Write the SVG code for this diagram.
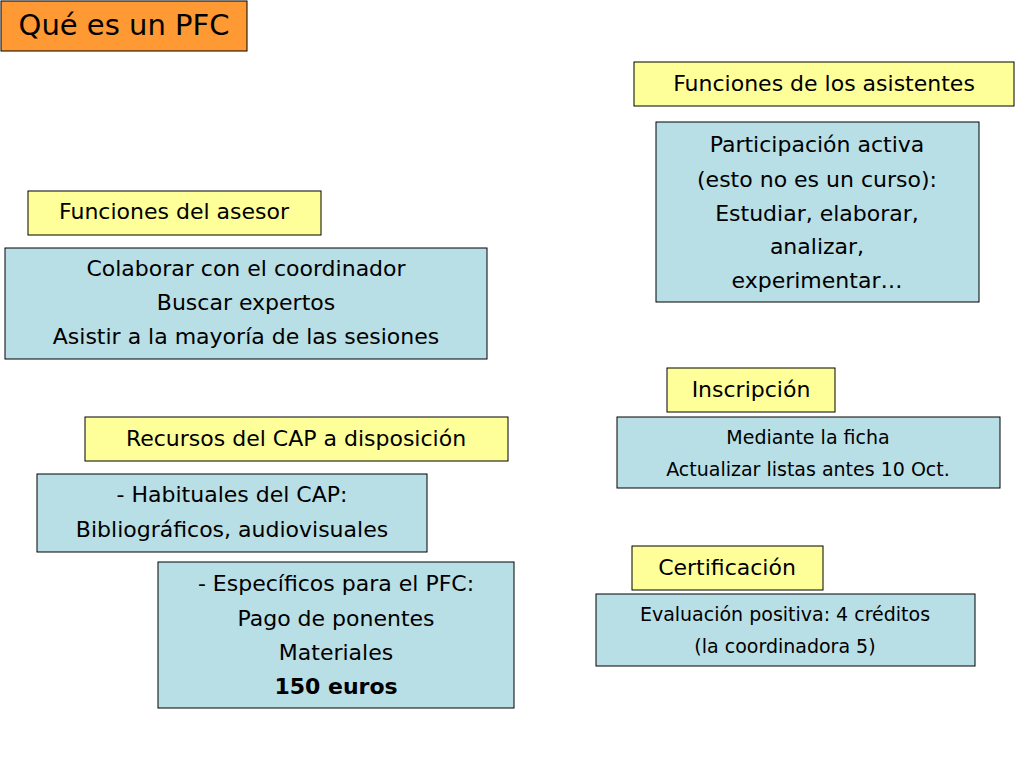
<svg xmlns="http://www.w3.org/2000/svg" width="1024" height="768" viewBox="0 0 1024 768">
<style>
.y{fill:#FFFF99;stroke:#000;stroke-width:1}
.b{fill:#B8DEE6;stroke:#000;stroke-width:1}
text{font-family:"DejaVu Sans","Liberation Sans",sans-serif;font-size:22px;fill:#000;text-anchor:middle;dominant-baseline:middle}
.s{font-size:19px}
</style>
<rect width="1024" height="768" fill="#fff"/>
<g id="title"><rect x="1" y="1" width="246" height="50" fill="#FF9933" stroke="#000"/><text x="124" y="27" style="font-size:29px">Qué es un PFC</text></g>
<g id="asistentes-h"><rect class="y" x="634" y="62" width="380" height="44"/><text x="824" y="85">Funciones de los asistentes</text></g>
<g id="asistentes"><rect class="b" x="656" y="122" width="323" height="180"/>
<text x="817" y="146">Participación activa</text><text x="817" y="181">(esto no es un curso):</text><text x="817" y="215">Estudiar, elaborar,</text><text x="817" y="248">analizar,</text><text x="817" y="282">experimentar…</text></g>
<g id="asesor-h"><rect class="y" x="28" y="191" width="293" height="44"/><text x="174" y="213">Funciones del asesor</text></g>
<g id="asesor"><rect class="b" x="5" y="248" width="482" height="111"/>
<text x="246" y="270">Colaborar con el coordinador</text><text x="246" y="304">Buscar expertos</text><text x="246" y="338">Asistir a la mayoría de las sesiones</text></g>
<g id="inscripcion-h"><rect class="y" x="667" y="368" width="168" height="44"/><text x="751" y="391">Inscripción</text></g>
<g id="inscripcion"><rect class="b" x="617" y="417" width="383" height="71"/>
<text class="s" x="808" y="438">Mediante la ficha</text><text class="s" x="808" y="470">Actualizar listas antes 10 Oct.</text></g>
<g id="recursos-h"><rect class="y" x="85" y="417" width="423" height="44"/><text x="296" y="440">Recursos del CAP a disposición</text></g>
<g id="habituales"><rect class="b" x="37" y="474" width="390" height="78"/>
<text x="232" y="496">- Habituales del CAP:</text><text x="232" y="531">Bibliográficos, audiovisuales</text></g>
<g id="certificacion-h"><rect class="y" x="632" y="546" width="191" height="44"/><text x="727" y="569">Certificación</text></g>
<g id="certificacion"><rect class="b" x="596" y="594" width="379" height="72"/>
<text class="s" x="785" y="615">Evaluación positiva: 4 créditos</text><text class="s" x="785" y="647">(la coordinadora 5)</text></g>
<g id="especificos"><rect class="b" x="158" y="562" width="356" height="146"/>
<text x="336" y="585">- Específicos para el PFC:</text><text x="336" y="620">Pago de ponentes</text><text x="336" y="654">Materiales</text><text x="336" y="688" font-weight="bold">150 euros</text></g>
<g id="connectors"/>
</svg>
